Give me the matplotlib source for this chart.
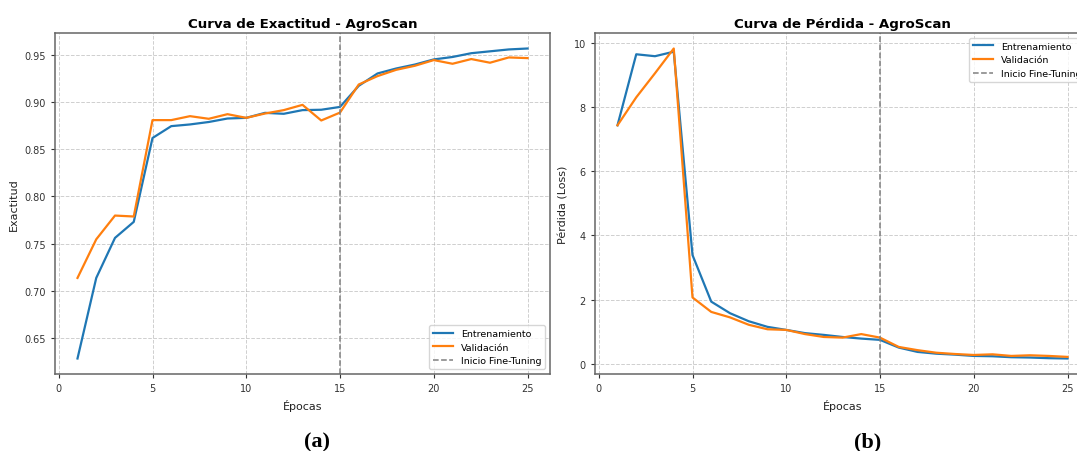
import matplotlib
matplotlib.use('Agg')
import matplotlib.pyplot as plt

# Datos
epocas = list(range(1, 26))
acc_train = [0.628, 0.7135, 0.756, 0.773, 0.862, 0.8746, 0.8764, 0.879, 0.8827, 0.8834,
             0.8887, 0.8877, 0.8916, 0.892, 0.895, 0.9174, 0.9305, 0.9358, 0.940, 0.9454,
             0.948, 0.952, 0.954, 0.956, 0.957]
acc_val = [0.7135, 0.7545, 0.7797, 0.7787, 0.881, 0.881, 0.8852, 0.8824, 0.8873, 0.8834,
           0.888, 0.8916, 0.8972, 0.8806, 0.889, 0.9188, 0.9277, 0.9344, 0.9387, 0.9447,
           0.9408, 0.9458, 0.9419, 0.9475, 0.9468]
loss_train = [7.43, 9.64, 9.58, 9.72, 3.39, 1.94, 1.58, 1.33, 1.155, 1.06,
              0.96, 0.905, 0.84, 0.79, 0.75, 0.51, 0.375, 0.32, 0.29, 0.25,
              0.24, 0.21, 0.20, 0.18, 0.17]
loss_val = [7.43, 8.3, 9.05, 9.82, 2.07, 1.62, 1.45, 1.22, 1.08, 1.06,
            0.93, 0.84, 0.82, 0.93, 0.82, 0.53, 0.43, 0.35, 0.31, 0.28,
            0.30, 0.25, 0.27, 0.25, 0.22]
inicio_ft = 15

W, H = 1077, 452
fig = plt.figure(figsize=(W / 100, H / 100), dpi=100)

# el panel derecho sale un poco del borde, como en la captura original
ax1 = fig.add_axes([55 / W, 1 - 375 / H, 495 / W, 341 / H])
ax2 = fig.add_axes([595 / W, 1 - 375 / H, 495 / W, 341 / H])

paneles = [
    (ax1, acc_train, acc_val, 'Curva de Exactitud - AgroScan', 'Exactitud', 'lower right', '(a)', 317),
    (ax2, loss_train, loss_val, 'Curva de Pérdida - AgroScan', 'Pérdida (Loss)', 'upper right', '(b)', 868),
]

for ax, tr, va, titulo, ylab, loc, etiqueta, xe in paneles:
    ax.plot(epocas, tr, color='#1f77b4', lw=1.6, label='Entrenamiento')
    ax.plot(epocas, va, color='#ff7f0e', lw=1.6, label='Validación')
    ax.axvline(inicio_ft, color='gray', linestyle='--', lw=1.1, label='Inicio Fine-Tuning')
    ax.set_title(titulo, fontsize=9.6, fontweight='bold', pad=4)
    ax.set_xlabel('Épocas', fontsize=8, color='#222222')
    ax.set_ylabel(ylab, fontsize=8, color='#222222')
    ax.set_xticks([0, 5, 10, 15, 20, 25])
    ax.tick_params(labelsize=7, colors='#333333', length=3)
    ax.grid(True, linestyle='--', alpha=0.6, lw=0.7)
    for s in ax.spines.values():
        s.set_color('#666666')
        s.set_linewidth(1.1)
    ax.legend(loc=loc, fontsize=6.8, handlelength=2.2)
    fig.text(xe / W, 1 - 442 / H, etiqueta, ha='center', va='center',
             fontsize=16, fontweight='bold', family='Liberation Serif')

fig.savefig('out.png', dpi=100)
